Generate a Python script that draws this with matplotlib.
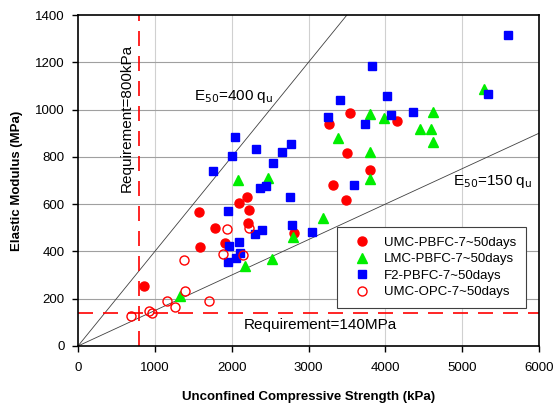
import matplotlib
matplotlib.use("Agg")
import matplotlib.pyplot as plt
import numpy as np

plt.rcParams['font.family'] = ['Liberation Sans', 'DejaVu Sans']

# UMC-PBFC-7~50days (filled red circles)
umc_pbfc_q = [859, 1575, 1584, 1779, 1907, 2093, 2204, 2224, 2212, 2811, 3271, 3314, 3488, 3497, 3545, 3801, 4147]
umc_pbfc_e = [254, 567, 420, 501, 434, 606, 630, 575, 522, 479, 938, 679, 618, 818, 987, 743, 953]

# LMC-PBFC-7~50days (green triangles)
lmc_pbfc_q = [1330, 2087, 2477, 2176, 2521, 2803, 3193, 3388, 3801, 3987, 3801, 3801, 4445, 4600, 4617, 4617, 5284]
lmc_pbfc_e = [212, 702, 712, 340, 366, 462, 543, 881, 981, 966, 819, 708, 918, 918, 991, 864, 1086]

# F2-PBFC-7~50days (blue squares)
f2_pbfc_q = [1753, 1957, 1970, 1957, 2000, 2048, 2057, 2100, 2109, 2304, 2321, 2373, 2391, 2451, 2538,
             2651, 2764, 2772, 2790, 3045, 3258, 3410, 3596, 3732, 3830, 4026, 4078, 4362, 5341, 5601]
f2_pbfc_e = [740, 571, 424, 357, 805, 883, 371, 440, 392, 474, 833, 670, 491, 677, 773,
             822, 629, 856, 510, 484, 969, 1041, 679, 939, 1186, 1059, 977, 991, 1066, 1316]

# UMC-OPC-7~50days (open red circles)
umc_opc_q = [696, 924, 963, 1154, 1258, 1380, 1392, 1700, 1885, 1935, 2152, 2232]
umc_opc_e = [126, 149, 138, 192, 165, 364, 234, 190, 388, 493, 386, 499]

ratio_high = 400  # E50 = 400 qu
ratio_low = 150   # E50 = 150 qu
req_qu = 800      # kPa
req_e = 140       # MPa

fig = plt.figure(figsize=(5.54, 4.03), dpi=100)
ax = fig.add_axes([78/554, 1-346/403, (539-78)/554, (346-15)/403])

ax.set_xlim(0, 6000)
ax.set_ylim(0, 1400)
ax.set_xticks(np.arange(0, 6001, 1000))
ax.set_yticks(np.arange(0, 1401, 200))

for xv in range(1000, 6000, 1000):
    ax.axvline(xv, color='#d0d0d0', lw=0.8, zorder=0)
for yv in range(200, 1400, 200):
    ax.axhline(yv, color='#a0a0a0', lw=0.8, zorder=0)

qq = np.array([0, 6000])
ax.plot(qq, qq * ratio_high / 1000, color='#404040', lw=0.6, zorder=1)
ax.plot(qq, qq * ratio_low / 1000, color='#404040', lw=0.6, zorder=1)

ax.axvline(req_qu, color='#ff0000', lw=1.2, dashes=(9, 6), zorder=1)
ax.axhline(req_e, color='#ff0000', lw=1.2, dashes=(9, 6), zorder=1)

ax.plot(umc_pbfc_q, umc_pbfc_e, 'o', color='#ff0000', ms=6.5, mec='#ff0000', ls='none',
        label='UMC-PBFC-7~50days', zorder=3)
ax.plot(lmc_pbfc_q, lmc_pbfc_e, '^', color='#00ee00', ms=7, mec='#00ee00', ls='none',
        label='LMC-PBFC-7~50days', zorder=3)
ax.plot(f2_pbfc_q, f2_pbfc_e, 's', color='#0000ff', ms=6.3, mec='#0000ff', ls='none',
        label='F2-PBFC-7~50days', zorder=3)
ax.plot(umc_opc_q, umc_opc_e, 'o', mfc='none', mec='#ff0000', mew=1.0, ms=6.5, ls='none',
        label='UMC-OPC-7~50days', zorder=3)

leg = ax.legend(loc='lower right', bbox_to_anchor=(526/554, 1-308.3/403), bbox_transform=fig.transFigure,
                borderaxespad=0, fontsize=9.5, frameon=True, fancybox=False, edgecolor='#404040',
                framealpha=1, handletextpad=0.55, borderpad=0.75, labelspacing=0.33, handlelength=2.27)
leg.get_frame().set_linewidth(0.8)

ax.text(2030, 1055, r'E$_{50}$=400 q$_{\rm u}$', fontsize=11, ha='center', va='center')
ax.text(5395, 695, r'E$_{50}$=150 q$_{\rm u}$', fontsize=11, ha='center', va='center')
ax.text(630, 965, 'Requirement=800kPa', fontsize=11, rotation=90, ha='center', va='center')
ax.text(3160, 89, 'Requirement=140MPa', fontsize=11, ha='center', va='center')

for s in ax.spines.values():
    s.set_linewidth(1.2)
ax.tick_params(direction='out', length=4, width=1, labelsize=9.5)
ax.tick_params(axis='x', pad=7.5)
ax.tick_params(axis='y', pad=5.5)

ax.set_xlabel('Unconfined Compressive Strength (kPa)', fontsize=9.5, fontweight='bold', labelpad=12)
ax.set_ylabel('Elastic Modulus (MPa)', fontsize=9.5, fontweight='bold', labelpad=9)

fig.savefig('out.png', dpi=100)
